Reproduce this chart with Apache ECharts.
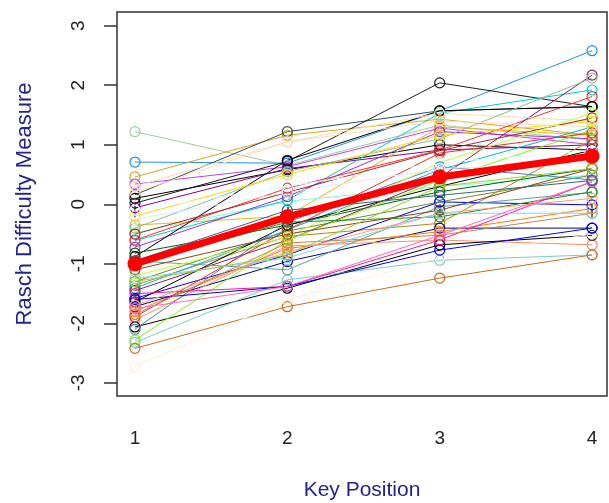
<!DOCTYPE html>
<html>
<head>
<meta charset="utf-8">
<script src="https://cdn.jsdelivr.net/npm/echarts@6/dist/echarts.min.js"></script>
<style>
  html, body { margin: 0; padding: 0; background: #fff; }
  #chart { width: 609px; height: 503px; }
</style>
</head>
<body>
<div id="chart"></div>
<script>
// key positions on the x axis
const positions = [1, 2, 3, 4]
const xTicks = [1, 2, 3, 4]
const yTicks = [-3, -2, -1, 0, 1, 2, 3]

// mean difficulty (thick red line)
const meanValues = [-1.0, -0.21, 0.46, 0.81]

// one row per item: difficulty at key positions 1..4
const itemValues = [
  [1.22, 0.65, 1.33, 1.08],
  [0.71, 0.69, 1.57, 2.58],
  [0.46, 1.16, 1.43, 1.16],
  [0.34, 0.63, 1.28, 1.0],
  [0.16, 1.22, 1.57, 1.64],
  [0.1, 0.58, 1.0, 0.91],
  [0.02, 0.72, 2.04, 1.64],
  [-0.06, 0.6, 0.91, 1.0],
  [-0.35, -0.2, 1.3, 1.16],
  [-0.48, 0.05, 0.3, 0.49],
  [-0.61, 0.07, 1.53, 1.92],
  [-0.72, 0.13, 1.22, 1.1],
  [-0.6, 0.27, 0.91, 1.81],
  [-0.88, 0.74, 1.57, 1.64],
  [-0.82, -0.35, 0.21, 0.6],
  [-1.3, -0.45, 0.04, 0.49],
  [-1.36, -0.54, -0.32, 1.08],
  [-1.41, -0.43, 0.58, 1.3],
  [-1.58, -0.85, 0.04, -0.01],
  [-1.64, -0.35, 0.3, 0.91],
  [-1.72, -0.96, -0.4, -0.4],
  [-1.8, -0.74, -0.46, -0.07],
  [-1.45, -0.6, 0.45, 2.17],
  [-1.94, -0.7, -0.6, -0.68],
  [-2.06, -1.41, -0.68, -0.52],
  [-2.1, -0.3, 0.63, 0.41],
  [-2.28, -0.6, 0.4, 1.25],
  [-2.32, -1.27, -0.94, -0.85],
  [-2.42, -1.72, -1.24, -0.85],
  [-2.73, -1.6, -0.9, -0.5],
  [-1.5, -1.38, -0.6, 0.38],
  [-1.6, -1.38, -0.77, -0.4],
  [-1.89, -0.43, 0.86, 1.2],
  [0.3, 1.05, 1.53, 1.4],
  [-0.95, -1.1, -0.04, 0.2],
  [-0.4, 0.55, 1.1, 2.12],
  [-0.2, 0.5, 1.16, 1.39],
  [-0.5, 0.2, 0.9, 1.45],
  [-1.2, -0.55, 0.7, 1.53],
  [-1.0, -0.3, -0.21, 0.21],
  [-0.1, 0.3, 0.7, 0.9],
  [-0.25, 0.2, 0.6, 0.7],
  [-1.7, -0.8, -0.15, 0.1],
  [-1.1, -0.5, -0.1, 0.6],
  [-1.85, -0.65, -0.52, -0.15],
  [-1.25, -0.9, -0.15, -0.15],
  [-1.3, -0.85, 0.3, 0.6],
  [-1.75, -1.38, -0.52, 0.38],
  [0.2, 1.05, 1.4, 1.3],
  [-0.95, -0.1, 0.15, 0.4]
]

const itemColors = [
  '#9BCD9B', '#1E90FF', '#DAA520', '#BF3EFF', '#2F4F4F', '#000000', '#1C1C1C', '#8B008B',
  '#EEB422', '#7FFFD4', '#00CED1', '#9932CC', '#FF3030', '#000000', '#006400', '#6B8E23',
  '#B8860B', '#00B2EE', '#0000FF', '#000000', '#00008B', '#FF7F00', '#8B1C62', '#FF8C69',
  '#000000', '#4682B4', '#7CFC00', '#79CDCD', '#D2691E', '#FFEFD5', '#FF1493', '#0000EE',
  '#EE2C2C', '#F5DEB3', '#5F9EA0', '#8FBC8F', '#FFD700', '#A52A2A', '#C0FF3E', '#228B22',
  '#E0FFFF', '#E6E6FA', '#FFA07A', '#8B4513', '#CD853F', '#87CEFA', '#9ACD32', '#FF69B4',
  '#FFDAB9', '#36648B'
]

const titleColor = '#23238C'
const chart = echarts.init(document.getElementById('chart'))

const toPoints = (vals) => vals.map((v, i) => [positions[i], v])

// thin item lines with hollow circles
const series = itemValues.map((vals, i) => ({
  type: 'line',
  data: toPoints(vals),
  symbol: 'circle',
  symbolSize: 10,
  lineStyle: { width: 1, color: itemColors[i] },
  itemStyle: { color: 'rgba(0,0,0,0)', borderColor: itemColors[i], borderWidth: 1.2 },
  z: 2
}))

// mean line on top
series.push({
  type: 'line',
  data: toPoints(meanValues),
  symbol: 'circle',
  symbolSize: 15,
  lineStyle: { width: 7, color: '#FF0000' },
  itemStyle: { color: '#FF0000' },
  z: 5
})

const option = {
  animation: false,
  grid: {
    left: 117,
    top: 12,
    width: 490,
    height: 384,
    outerBoundsMode: 'none',
    containLabel: false,
    show: true,
    borderColor: '#333',
    borderWidth: 1.5,
    backgroundColor: 'transparent'
  },
  xAxis: {
    type: 'value',
    min: 0.882,
    max: 4.098,
    name: 'Key Position',
    nameLocation: 'middle',
    nameGap: 84,
    nameTextStyle: { color: titleColor, fontSize: 21, fontFamily: 'Liberation Sans' },
    axisLine: { show: false },
    splitLine: { show: false },
    axisTick: { show: true, length: 13, customValues: xTicks, lineStyle: { color: '#333', width: 1.5 } },
    axisLabel: { customValues: xTicks, fontSize: 19, margin: 33, color: '#222', fontFamily: 'Liberation Sans' }
  },
  yAxis: {
    type: 'value',
    min: -3.22,
    max: 3.23,
    name: 'Rasch Difficulty Measure',
    nameLocation: 'middle',
    nameGap: 81,
    nameTextStyle: { color: titleColor, fontSize: 22, fontFamily: 'Liberation Sans' },
    axisLine: { show: false },
    splitLine: { show: false },
    axisTick: { show: true, length: 13, customValues: yTicks, lineStyle: { color: '#333', width: 1.5 } },
    axisLabel: { customValues: yTicks, rotate: 90, fontSize: 19, margin: 29, color: '#222', fontFamily: 'Liberation Sans' }
  },
  series: series
}

chart.setOption(option)
</script>
</body>
</html>
